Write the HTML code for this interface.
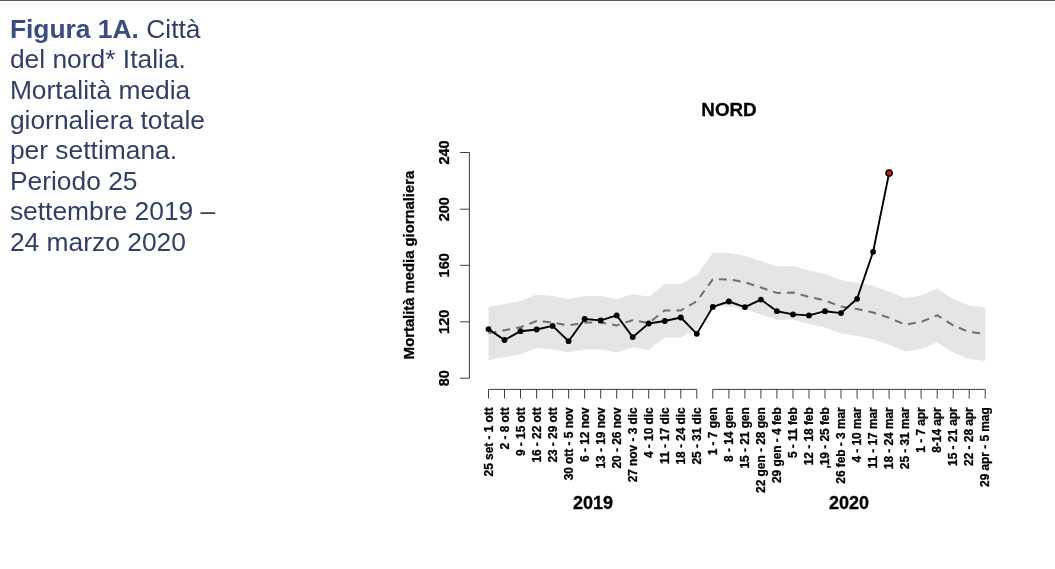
<!DOCTYPE html>
<html lang="it"><head><meta charset="utf-8"><title>Figura 1A</title>
<style>
html,body{margin:0;padding:0;background:#fff;}
body{width:1055px;height:569px;position:relative;overflow:hidden;font-family:"Liberation Sans",Arial,sans-serif;}
.topline{position:absolute;left:0;top:0;width:1055px;height:1px;background:#566060;}
.cap{position:absolute;left:9.9px;top:13.8px;width:260px;font-size:26.4px;line-height:30.4px;color:#334066;white-space:nowrap;}
.cap b{color:#3b4c80;font-weight:bold;}
</style></head><body>
<div class="topline"></div>
<div class="cap"><b>Figura 1A.</b> Città<br>del nord* Italia.<br>Mortalità media<br>giornaliera totale<br>per settimana.<br>Periodo 25<br>settembre 2019 –<br>24 marzo 2020</div>
<svg width="1055" height="569" viewBox="0 0 1055 569" style="position:absolute;left:0;top:0">
<polygon points="488.5,306.7 504.5,303.9 520.5,300.9 536.6,294.6 552.6,296.1 568.6,299.0 584.6,296.1 600.7,296.1 616.7,299.0 632.7,293.9 648.7,296.7 664.8,284.0 680.8,284.0 696.8,274.9 712.8,252.9 728.9,253.0 744.9,255.8 760.9,261.1 776.9,266.5 793.0,266.1 809.0,270.5 825.0,274.1 841.0,280.2 857.1,282.6 873.1,286.1 889.1,291.4 905.1,298.2 921.1,295.6 937.2,288.8 953.2,299.0 969.2,305.6 985.2,307.6 985.2,361.0 969.2,359.0 953.2,352.4 937.2,342.2 921.1,349.0 905.1,351.6 889.1,344.8 873.1,339.5 857.1,336.0 841.0,333.6 825.0,327.5 809.0,323.9 793.0,319.5 776.9,319.9 760.9,314.5 744.9,309.2 728.9,306.4 712.8,306.3 696.8,328.2 680.8,337.4 664.8,337.4 648.7,350.1 632.7,347.2 616.7,352.4 600.7,349.5 584.6,349.5 568.6,352.4 552.6,349.5 536.6,348.0 520.5,354.3 504.5,357.2 488.5,360.1" fill="#e5e5e5"/>
<polyline points="488.5,333.1 504.5,330.2 520.5,327.3 536.6,321.0 552.6,322.5 568.6,325.4 584.6,322.5 600.7,322.5 616.7,325.4 632.7,320.2 648.7,323.1 664.8,310.4 680.8,310.4 696.8,301.2 712.8,279.3 728.9,279.4 744.9,282.2 760.9,287.5 776.9,292.9 793.0,292.5 809.0,296.9 825.0,300.5 841.0,306.6 857.1,309.0 873.1,312.5 889.1,317.8 905.1,324.6 921.1,322.0 937.2,315.2 953.2,325.4 969.2,332.0 985.2,334.0" fill="none" stroke="#707070" stroke-width="2" stroke-dasharray="8 6" stroke-linejoin="round"/>
<polyline points="488.5,329.1 504.5,340.0 520.5,331.2 536.6,329.5 552.6,325.9 568.6,341.2 584.6,319.0 600.7,320.4 616.7,315.4 632.7,337.1 648.7,323.5 664.8,321.0 680.8,317.5 696.8,333.8 712.8,306.9 728.9,301.5 744.9,307.1 760.9,299.6 776.9,311.2 793.0,314.4 809.0,315.4 825.0,311.2 841.0,313.1 857.1,298.8 873.1,251.8 889.1,173.1" fill="none" stroke="#000" stroke-width="1.9" stroke-linejoin="round"/>
<circle cx="488.5" cy="329.1" r="2.9" fill="#000"/>
<circle cx="504.5" cy="340.0" r="2.9" fill="#000"/>
<circle cx="520.5" cy="331.2" r="2.9" fill="#000"/>
<circle cx="536.6" cy="329.5" r="2.9" fill="#000"/>
<circle cx="552.6" cy="325.9" r="2.9" fill="#000"/>
<circle cx="568.6" cy="341.2" r="2.9" fill="#000"/>
<circle cx="584.6" cy="319.0" r="2.9" fill="#000"/>
<circle cx="600.7" cy="320.4" r="2.9" fill="#000"/>
<circle cx="616.7" cy="315.4" r="2.9" fill="#000"/>
<circle cx="632.7" cy="337.1" r="2.9" fill="#000"/>
<circle cx="648.7" cy="323.5" r="2.9" fill="#000"/>
<circle cx="664.8" cy="321.0" r="2.9" fill="#000"/>
<circle cx="680.8" cy="317.5" r="2.9" fill="#000"/>
<circle cx="696.8" cy="333.8" r="2.9" fill="#000"/>
<circle cx="712.8" cy="306.9" r="2.9" fill="#000"/>
<circle cx="728.9" cy="301.5" r="2.9" fill="#000"/>
<circle cx="744.9" cy="307.1" r="2.9" fill="#000"/>
<circle cx="760.9" cy="299.6" r="2.9" fill="#000"/>
<circle cx="776.9" cy="311.2" r="2.9" fill="#000"/>
<circle cx="793.0" cy="314.4" r="2.9" fill="#000"/>
<circle cx="809.0" cy="315.4" r="2.9" fill="#000"/>
<circle cx="825.0" cy="311.2" r="2.9" fill="#000"/>
<circle cx="841.0" cy="313.1" r="2.9" fill="#000"/>
<circle cx="857.1" cy="298.8" r="2.9" fill="#000"/>
<circle cx="873.1" cy="251.8" r="2.9" fill="#000"/>
<circle cx="889.1" cy="173.1" r="3.1" fill="#dc1029" stroke="#000" stroke-width="1.5"/>
<path d="M469.4 152.5V378.2M469.4 152.5H460.09999999999997M469.4 209.2H460.09999999999997M469.4 265.3H460.09999999999997M469.4 321.8H460.09999999999997M469.4 378.2H460.09999999999997M488.5 389.4H696.8M712.8 389.4H985.2M488.5 389.4V398.59999999999997M504.5 389.4V398.59999999999997M520.5 389.4V398.59999999999997M536.6 389.4V398.59999999999997M552.6 389.4V398.59999999999997M568.6 389.4V398.59999999999997M584.6 389.4V398.59999999999997M600.7 389.4V398.59999999999997M616.7 389.4V398.59999999999997M632.7 389.4V398.59999999999997M648.7 389.4V398.59999999999997M664.8 389.4V398.59999999999997M680.8 389.4V398.59999999999997M696.8 389.4V398.59999999999997M712.8 389.4V398.59999999999997M728.9 389.4V398.59999999999997M744.9 389.4V398.59999999999997M760.9 389.4V398.59999999999997M776.9 389.4V398.59999999999997M793.0 389.4V398.59999999999997M809.0 389.4V398.59999999999997M825.0 389.4V398.59999999999997M841.0 389.4V398.59999999999997M857.1 389.4V398.59999999999997M873.1 389.4V398.59999999999997M889.1 389.4V398.59999999999997M905.1 389.4V398.59999999999997M921.1 389.4V398.59999999999997M937.2 389.4V398.59999999999997M953.2 389.4V398.59999999999997M969.2 389.4V398.59999999999997M985.2 389.4V398.59999999999997" fill="none" stroke="#2a2a2a" stroke-width="0.9"/>
<g font-family="Liberation Sans, Arial, sans-serif" font-weight="bold" fill="#000" stroke="#000" stroke-width="0.3">
<text transform="translate(449 152.5) rotate(-90)" text-anchor="middle" font-size="14.5">240</text>
<text transform="translate(449 209.2) rotate(-90)" text-anchor="middle" font-size="14.5">200</text>
<text transform="translate(449 265.3) rotate(-90)" text-anchor="middle" font-size="14.5">160</text>
<text transform="translate(449 321.8) rotate(-90)" text-anchor="middle" font-size="14.5">120</text>
<text transform="translate(449 378.2) rotate(-90)" text-anchor="middle" font-size="14.5">80</text>
<text transform="translate(413.7 265) rotate(-90)" text-anchor="middle" font-size="14.8">Mortalità media giornaliera</text>
<text transform="translate(492.7 407.3) rotate(-90)" text-anchor="end" font-size="11.85">25 set - 1 ott</text>
<text transform="translate(508.7 407.3) rotate(-90)" text-anchor="end" font-size="11.85">2 - 8 ott</text>
<text transform="translate(524.7 407.3) rotate(-90)" text-anchor="end" font-size="11.85">9 - 15 ott</text>
<text transform="translate(540.8 407.3) rotate(-90)" text-anchor="end" font-size="11.85">16 - 22 ott</text>
<text transform="translate(556.8 407.3) rotate(-90)" text-anchor="end" font-size="11.85">23 - 29 ott</text>
<text transform="translate(572.8 407.3) rotate(-90)" text-anchor="end" font-size="11.85">30 ott - 5 nov</text>
<text transform="translate(588.8 407.3) rotate(-90)" text-anchor="end" font-size="11.85">6 - 12 nov</text>
<text transform="translate(604.9 407.3) rotate(-90)" text-anchor="end" font-size="11.85">13 - 19 nov</text>
<text transform="translate(620.9 407.3) rotate(-90)" text-anchor="end" font-size="11.85">20 - 26 nov</text>
<text transform="translate(636.9 407.3) rotate(-90)" text-anchor="end" font-size="11.85">27 nov - 3 dic</text>
<text transform="translate(652.9 407.3) rotate(-90)" text-anchor="end" font-size="11.85">4 - 10 dic</text>
<text transform="translate(669.0 407.3) rotate(-90)" text-anchor="end" font-size="11.85">11 - 17 dic</text>
<text transform="translate(685.0 407.3) rotate(-90)" text-anchor="end" font-size="11.85">18 - 24 dic</text>
<text transform="translate(701.0 407.3) rotate(-90)" text-anchor="end" font-size="11.85">25 - 31 dic</text>
<text transform="translate(717.0 407.3) rotate(-90)" text-anchor="end" font-size="11.85">1 - 7 gen</text>
<text transform="translate(733.1 407.3) rotate(-90)" text-anchor="end" font-size="11.85">8 - 14 gen</text>
<text transform="translate(749.1 407.3) rotate(-90)" text-anchor="end" font-size="11.85">15 - 21 gen</text>
<text transform="translate(765.1 407.3) rotate(-90)" text-anchor="end" font-size="11.85">22 gen - 28 gen</text>
<text transform="translate(781.1 407.3) rotate(-90)" text-anchor="end" font-size="11.85">29 gen - 4 feb</text>
<text transform="translate(797.2 407.3) rotate(-90)" text-anchor="end" font-size="11.85">5 - 11 feb</text>
<text transform="translate(813.2 407.3) rotate(-90)" text-anchor="end" font-size="11.85">12 - 18 feb</text>
<text transform="translate(829.2 407.3) rotate(-90)" text-anchor="end" font-size="11.85">,19 - 25 feb</text>
<text transform="translate(845.2 407.3) rotate(-90)" text-anchor="end" font-size="11.85">26 feb - 3 mar</text>
<text transform="translate(861.3 407.3) rotate(-90)" text-anchor="end" font-size="11.85">4 - 10 mar</text>
<text transform="translate(877.3 407.3) rotate(-90)" text-anchor="end" font-size="11.85">11 - 17 mar</text>
<text transform="translate(893.3 407.3) rotate(-90)" text-anchor="end" font-size="11.85">18 - 24 mar</text>
<text transform="translate(909.3 407.3) rotate(-90)" text-anchor="end" font-size="11.85">25 - 31 mar</text>
<text transform="translate(925.3 407.3) rotate(-90)" text-anchor="end" font-size="11.85">1 - 7 apr</text>
<text transform="translate(941.4 407.3) rotate(-90)" text-anchor="end" font-size="11.85">8-14 apr</text>
<text transform="translate(957.4 407.3) rotate(-90)" text-anchor="end" font-size="11.85">15 - 21 apr</text>
<text transform="translate(973.4 407.3) rotate(-90)" text-anchor="end" font-size="11.85">22 - 28 apr</text>
<text transform="translate(989.4 407.3) rotate(-90)" text-anchor="end" font-size="11.85">29 apr - 5 mag</text>
<text x="729" y="116" text-anchor="middle" font-size="18.8">NORD</text>
<text x="592.9" y="509" text-anchor="middle" font-size="18">2019</text>
<text x="849" y="509" text-anchor="middle" font-size="18">2020</text>
</g></svg>
</body></html>
